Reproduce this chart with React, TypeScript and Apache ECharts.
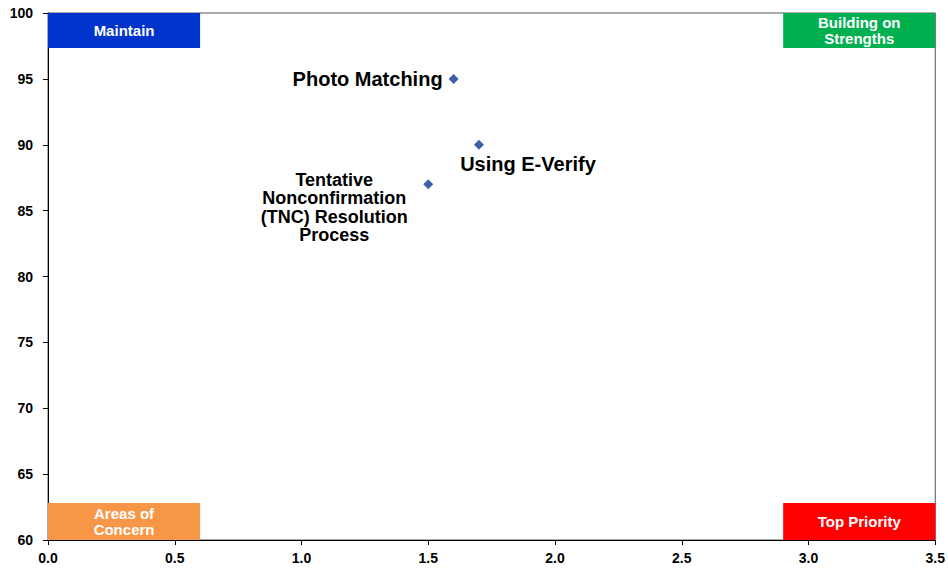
import React, { useEffect, useRef } from "react";
import * as echarts from "echarts";

const pointNames = ["Photo Matching", "Using E-Verify", "Tentative\nNonconfirmation\n(TNC) Resolution\nProcess"];
const xValues = [1.6, 1.7, 1.5];
const yValues = [95, 90, 87];

const boxNames = ["Maintain", "Building on\nStrengths", "Areas of\nConcern", "Top Priority"];
const boxX0 = [0, 2.9, 0, 2.9];
const boxX1 = [0.6, 3.5, 0.6, 3.5];
const boxY0 = [97.35, 97.35, 60, 60];
const boxY1 = [100, 100, 62.8, 62.8];
const boxColors = ["#0033CC", "#00B050", "#F79646", "#FF0000"];

const FONT = "Liberation Sans, Arial, sans-serif";

export default function App() {
  const ref = useRef<HTMLDivElement>(null);
  useEffect(() => {
    document.body.style.margin = "0";
    const chart = echarts.init(ref.current!, null, { renderer: "svg" });
    const labelCfgs: any[] = [
      { position: "left", distance: 6 },
      { position: "bottom", distance: 4, offset: [49, 0] },
      {
        position: [-89, -9],
        align: "center",
        verticalAlign: "top",
        fontSize: 18,
        lineHeight: 18.5,
      },
    ];
    const data = pointNames.map((n, i) => ({
      name: n,
      value: [xValues[i], yValues[i]],
      label: labelCfgs[i],
    }));
    const areas = boxNames.map((n, i) => [
      {
        name: n,
        xAxis: boxX0[i],
        yAxis: boxY0[i],
        itemStyle: { color: boxColors[i], opacity: 1 },
      },
      { xAxis: boxX1[i], yAxis: boxY1[i] },
    ]);
    chart.setOption({
      animation: false,
      textStyle: { fontFamily: FONT },
      grid: {
        left: 48,
        right: 11,
        top: 13,
        bottom: 29,
        show: true,
        borderColor: "#555",
        borderWidth: 1,
        backgroundColor: "transparent",
      },
      xAxis: {
        type: "value",
        min: 0,
        max: 3.5,
        interval: 0.5,
        splitLine: { show: false },
        axisLine: { show: true, lineStyle: { color: "#000", width: 1 } },
        axisTick: { show: true, length: 5, lineStyle: { color: "#000" } },
        axisLabel: {
          color: "#000",
          fontWeight: "bold",
          fontSize: 14,
          fontFamily: FONT,
          margin: 11,
          formatter: (v: number) => v.toFixed(1),
        },
      },
      yAxis: {
        type: "value",
        min: 60,
        max: 100,
        interval: 5,
        splitLine: { show: false },
        axisLine: { show: true, lineStyle: { color: "#000", width: 1 } },
        axisTick: { show: true, length: 5, lineStyle: { color: "#000" } },
        axisLabel: {
          color: "#000",
          fontWeight: "bold",
          fontSize: 14,
          fontFamily: FONT,
          margin: 15,
        },
      },
      series: [
        {
          type: "scatter",
          symbol: "diamond",
          symbolSize: 10,
          itemStyle: { color: "#3F5FA8", opacity: 1 },
          label: {
            show: true,
            formatter: "{b}",
            color: "#000",
            fontWeight: "bold",
            fontSize: 20,
            fontFamily: FONT,
          },
          data,
          markArea: {
            silent: true,
            label: {
              show: true,
              position: "inside",
              color: "#fff",
              fontWeight: "bold",
              fontSize: 15,
              lineHeight: 16,
              fontFamily: FONT,
            },
            data: areas,
          },
        },
      ],
    });
    return () => chart.dispose();
  }, []);
  return <div ref={ref} style={{ width: 948, height: 569 }} />;
}
